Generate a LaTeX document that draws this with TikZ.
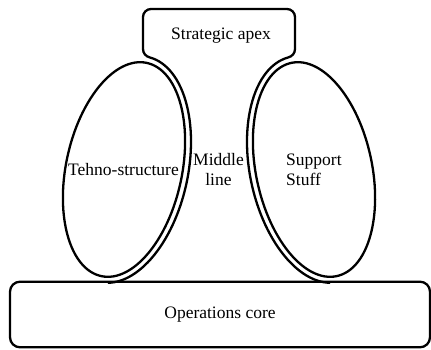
\documentclass[tikz,border=0pt]{standalone}
\usepackage{fontspec}
\setmainfont{Liberation Serif}
\newfontfamily\unitfont{Liberation Serif}
\usepackage{tikz}
\newcommand{\ringx}[1]{(64*cos(#1)*cos(12)+115*sin(#1)*sin(12))}
\newcommand{\ringy}[1]{(-64*cos(#1)*sin(12)+115*sin(#1)*cos(12))}
\tikzstyle{part} = [draw, line width=2.3pt]
\tikzstyle{unittext} = [inner sep=0pt, align=center, font=\unitfont\fontsize{17.5}{20}\selectfont]

\begin{document}
\begin{tikzpicture}[x=1pt, y=1pt]
			\useasboundingbox (0,0) rectangle (431,349);
			\draw[part, rotate around={-12:(124,179.5)}] (124,179.5) ellipse[x radius=58, y radius=109];
			\draw[part, rotate around={12:(314,179.5)}] (314,179.5) ellipse[x radius=58, y radius=109];
			% apex joined with the middle line
			\coordinate (ljoin) at ({124+\ringx{88}}, {179.5+\ringy{88}});
			\coordinate (rjoin) at ({314-\ringx{88}}, {179.5+\ringy{88}});
			\draw[part, line join=round] plot[domain=-83:88, variable=\t, samples=60] ({124+\ringx{\t}}, {179.5+\ringy{\t}})
				to[out=165, in=-90] (143,300) -- (143,332) arc[start angle=180, end angle=90, radius=8]
				-- (287,340) arc[start angle=90, end angle=0, radius=8] -- (295,300)
				to[out=-90, in=15] (rjoin)
				-- plot[domain=88:-83, variable=\t, samples=60] ({314-\ringx{\t}}, {179.5+\ringy{\t}});
			\node[part, rounded corners=10, minimum width=420, minimum height=65.6, font=\unitfont\fontsize{17.5}{20}\selectfont] (core) at (220,34.5) {Operations core};
			\node[unittext] (apex) at (221,313) {Strategic apex};
			\node[unittext] (techno) at (123.5,179) {Tehno-structure};
			\node[unittext] (middle) at (218.5,179.5) {Middle\\line};
			\node[unittext, align=left, anchor=west] (support) at (286,179.5) {Support\\Stuff};
		\end{tikzpicture}
\end{document}
